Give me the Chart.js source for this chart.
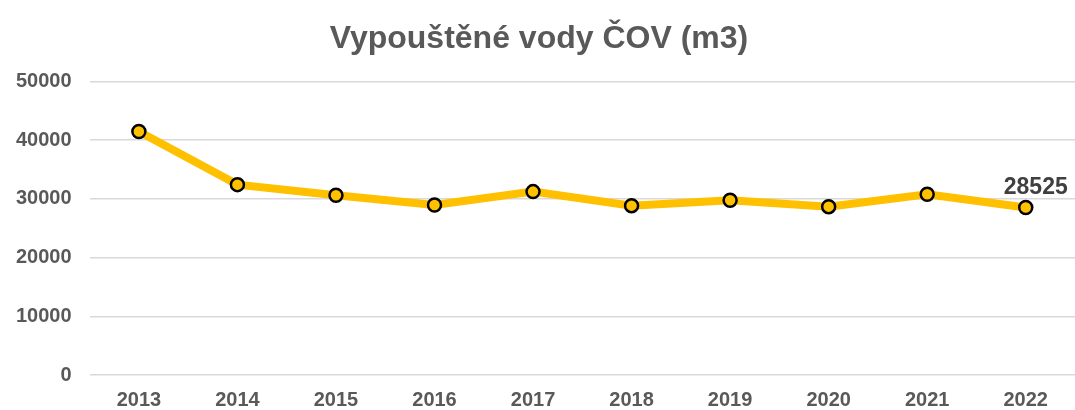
<!DOCTYPE html>
<html>
<head>
<meta charset="utf-8">
<script src="https://cdn.jsdelivr.net/npm/chart.js@4/dist/chart.umd.min.js"></script>
<style>
  html, body { margin: 0; padding: 0; background: #fff; }
  #wrap { width: 1075px; height: 410px; }
</style>
</head>
<body>
<div id="wrap"><canvas id="covChart"></canvas></div>
<script>
const years = ['2013', '2014', '2015', '2016', '2017', '2018', '2019', '2020', '2021', '2022'];
const volumes = [41470, 32420, 30600, 28960, 31230, 28840, 29750, 28670, 30770, 28525];
const yTicks = [0, 10000, 20000, 30000, 40000, 50000];

const FONT = '"Liberation Sans", Arial, sans-serif';

// label only the last point, like the source sheet
const lastValueLabel = {
    id: 'lastValueLabel',
    afterDatasetsDraw(chart) {
        const meta = chart.getDatasetMeta(0);
        const i = volumes.length - 1;
        const pt = meta.data[i];
        const ctx = chart.ctx;
        ctx.save();
        ctx.font = 'bold 23px ' + FONT;
        ctx.fillStyle = '#404040';
        ctx.textAlign = 'center';
        ctx.textBaseline = 'alphabetic';
        ctx.fillText(String(volumes[i]), pt.x + 10, pt.y - 14);
        ctx.restore();
    }
};

new Chart(document.getElementById('covChart'), {
    type: 'line',
    data: {
        labels: years,
        datasets: [{
            data: volumes,
            borderColor: '#FFC000',
            borderWidth: 8,
            pointRadius: 6.5,
            pointBorderWidth: 2.5,
            pointBorderColor: '#000',
            pointBackgroundColor: '#FFC000',
            tension: 0
        }]
    },
    options: {
        responsive: true,
        maintainAspectRatio: false,
        animation: false,
        layout: { autoPadding: false, padding: { left: -2, right: -5, top: 0, bottom: -7 } },
        plugins: {
            legend: { display: false },
            tooltip: { enabled: false },
            title: {
                display: true,
                text: 'Vypouštěné vody ČOV (m3)',
                color: '#595959',
                font: { family: FONT, size: 32, weight: 'bold' },
                padding: { top: 20, bottom: 23 }
            }
        },
        scales: {
            x: {
                offset: true,
                grid: { display: false },
                border: { display: false },
                ticks: {
                    color: '#595959',
                    padding: 5,
                    font: { family: FONT, size: 20, weight: 'bold' }
                }
            },
            y: {
                min: 0,
                max: 50000,
                afterBuildTicks(axis) { axis.ticks = yTicks.map(v => ({ value: v })); },
                grid: { color: '#d9d9d9', lineWidth: 1.5, drawTicks: false },
                border: { display: false },
                ticks: {
                    color: '#595959',
                    padding: 18,
                    callback: v => String(v),
                    font: { family: FONT, size: 20, weight: 'bold' }
                }
            }
        }
    },
    plugins: [lastValueLabel]
});
</script>
</body>
</html>
